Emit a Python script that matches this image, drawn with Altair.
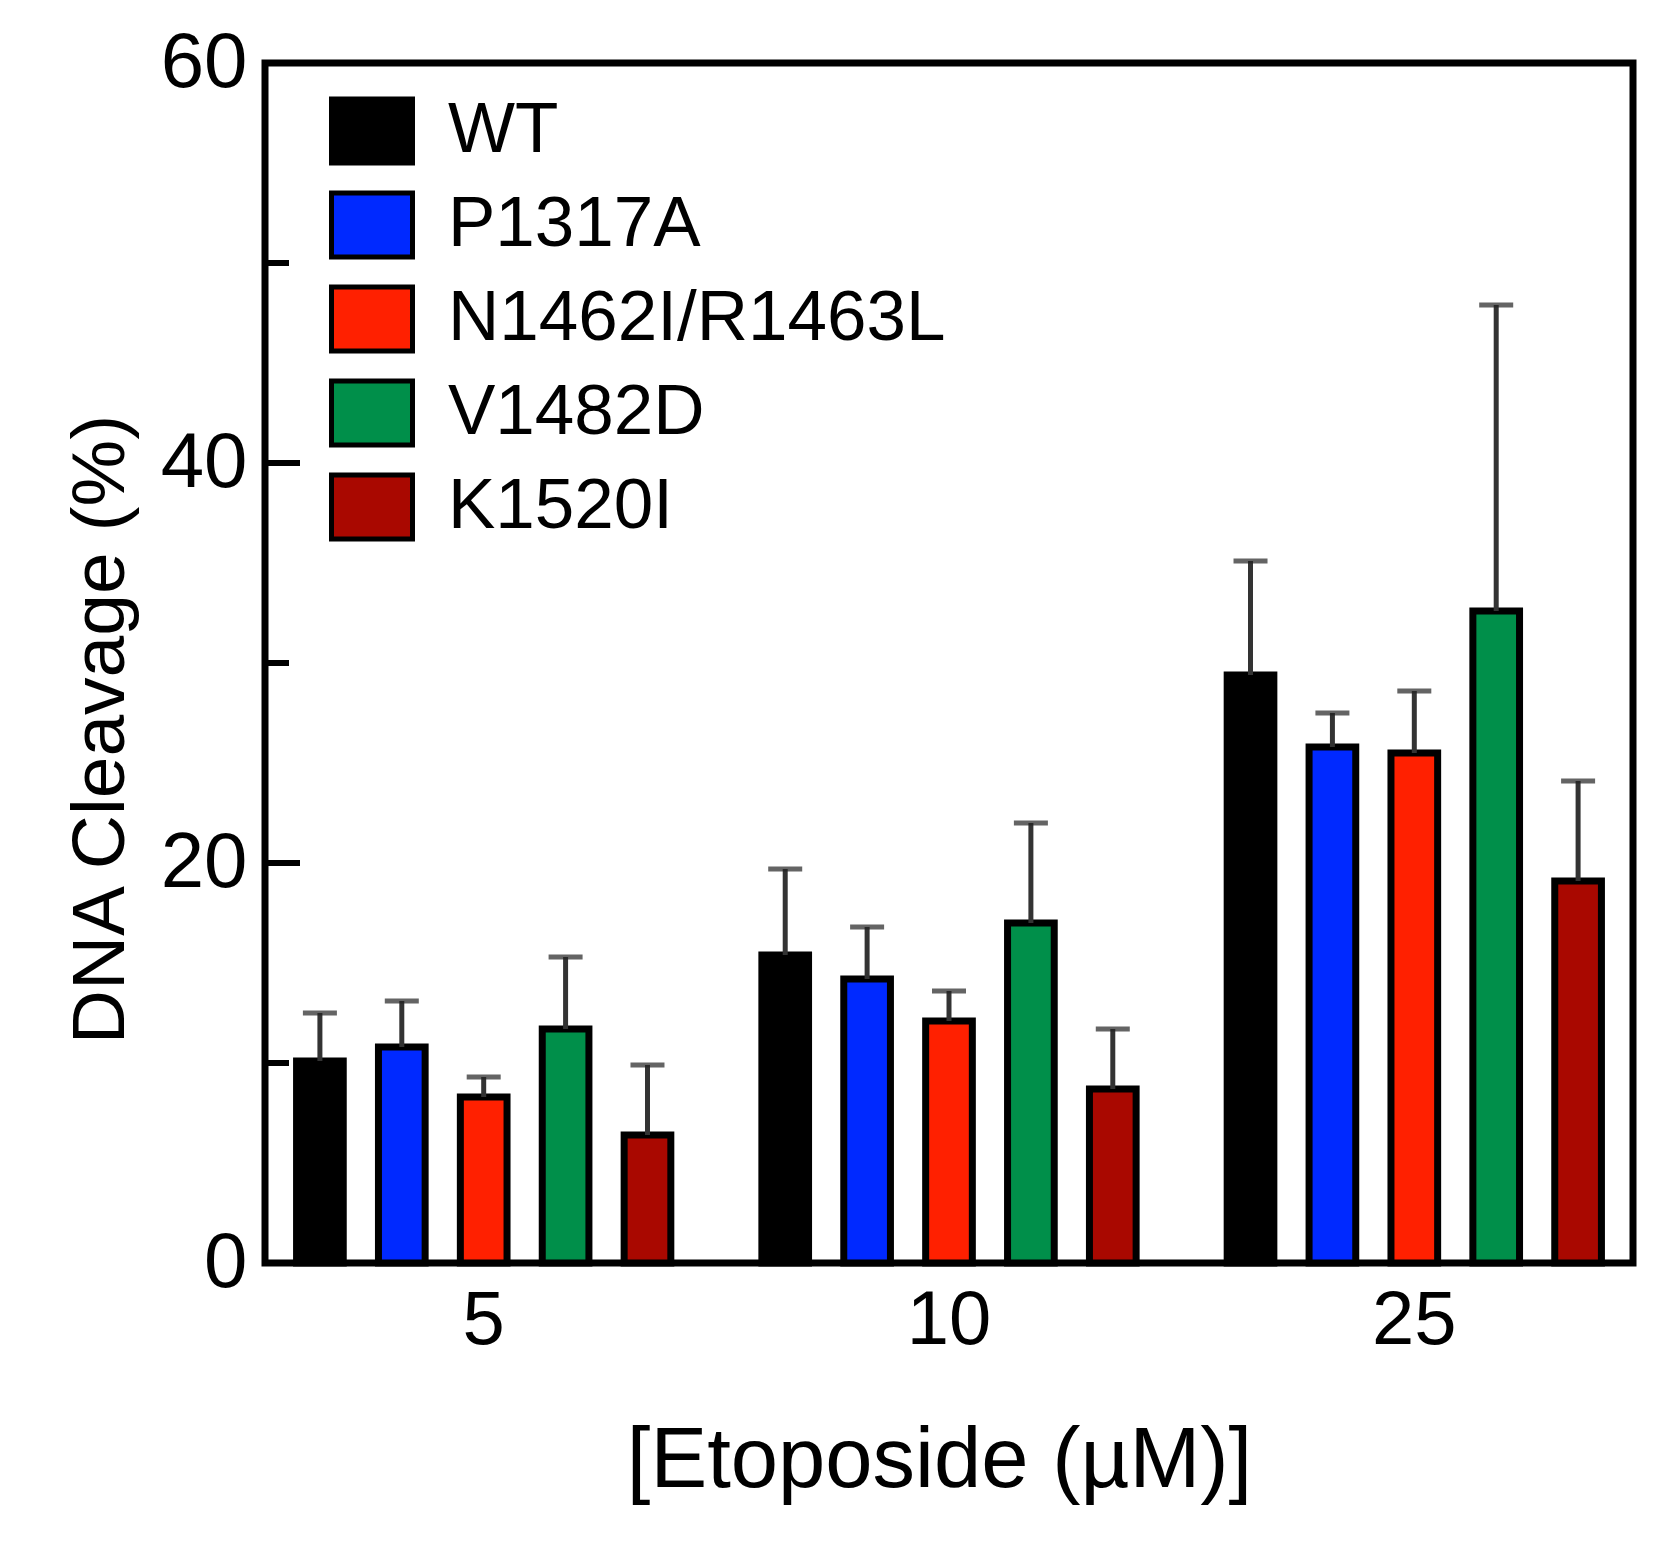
import altair as alt
import pandas as pd

conc = ["5", "10", "25"]
mutants = ["WT", "P1317A", "N1462I/R1463L", "V1482D", "K1520I"]
colors = ["#000000", "#0029FF", "#FF2000", "#008F4A", "#A90800"]

cleavage_5 = [10.1, 10.8, 8.3, 11.7, 6.4]
error_5 = [2.4, 2.3, 1.0, 3.6, 3.5]
cleavage_10 = [15.4, 14.2, 12.1, 17.0, 8.7]
error_10 = [4.3, 2.6, 1.5, 5.0, 3.0]
cleavage_25 = [29.4, 25.8, 25.5, 32.6, 19.1]
error_25 = [5.7, 1.7, 3.1, 15.3, 5.0]

major_ticks = [0, 20, 40, 60]
minor_ticks = [10, 30, 50]

rows = []
for c, vals, errs in [("5", cleavage_5, error_5), ("10", cleavage_10, error_10), ("25", cleavage_25, error_25)]:
    for m, v, e in zip(mutants, vals, errs):
        rows.append({"conc": c, "mutant": m, "value": v, "upper": v + e})
df = pd.DataFrame(rows)
major_df = pd.DataFrame({"value": major_ticks})
minor_df = pd.DataFrame({"value": minor_ticks})

FONT = "Liberation Sans"

x_axis = alt.Axis(
    labelAngle=0, ticks=False, tickSize=0, domain=False, grid=False,
    labelFontSize=76, labelFont=FONT, labelColor="black",
    labelBaseline="alphabetic", labelPadding=80,
    title="[Etoposide (\u00b5M)]", titleFont=FONT, titleFontSize=85,
    titleFontWeight="normal", titleColor="black",
    titleX=674, titleY=223, titleBaseline="alphabetic", titleAlign="center",
)
y_axis = alt.Axis(
    values=major_ticks, ticks=False, tickSize=0, domain=False, grid=False,
    labelFontSize=78, labelFont=FONT, labelColor="black", labelPadding=18,
    title="DNA Cleavage (%)", titleFont=FONT, titleFontSize=75,
    titleFontWeight="normal", titleColor="black",
    titleX=-142, titleY=666, titleBaseline="alphabetic", titleAngle=270,
    titleAlign="center",
)

x_enc = alt.X(
    "conc:N", sort=conc,
    scale=alt.Scale(paddingInner=0.12, paddingOuter=0.03),
    axis=x_axis,
)
xoff_enc = alt.XOffset(
    "mutant:N", sort=mutants,
    scale=alt.Scale(paddingInner=0.43, paddingOuter=0.215),
)
y_scale = alt.Scale(domain=[0, 60], nice=False)

bars = alt.Chart(df).mark_bar(stroke="black", strokeWidth=7).encode(
    x=x_enc,
    xOffset=xoff_enc,
    y=alt.Y("value:Q", scale=y_scale, axis=y_axis),
    color=alt.Color(
        "mutant:N", sort=mutants, title=None,
        scale=alt.Scale(domain=mutants, range=colors),
        legend=alt.Legend(
            orient="none", legendX=64, legendY=25, padding=0,
            symbolType="M-1,-0.79H1V0.79H-1Z", symbolSize=6561,
            symbolStrokeWidth=5, symbolStrokeColor="black", symbolOpacity=1,
            labelFontSize=71, labelFont=FONT, labelColor="black",
            labelOffset=33, rowPadding=9, labelLimit=1000,
        ),
    ),
)

err_lines = alt.Chart(df).mark_rule(color="#333333", strokeWidth=5).encode(
    x=x_enc,
    xOffset=xoff_enc,
    y=alt.Y("value:Q", scale=y_scale, axis=y_axis),
    y2="upper:Q",
)
err_caps = alt.Chart(df).mark_tick(color="#222222", thickness=5, size=34, orient="horizontal").encode(
    x=x_enc,
    xOffset=xoff_enc,
    y=alt.Y("upper:Q", scale=y_scale, axis=y_axis),
)

major = alt.Chart(major_df).mark_rule(color="black", strokeWidth=6).encode(
    y=alt.Y("value:Q", scale=y_scale, axis=y_axis),
    x=alt.value(0), x2=alt.value(35),
)
minor = alt.Chart(minor_df).mark_rule(color="black", strokeWidth=6).encode(
    y=alt.Y("value:Q", scale=y_scale, axis=y_axis),
    x=alt.value(0), x2=alt.value(24),
)

chart = alt.layer(bars, err_lines, err_caps, major, minor).properties(
    width=1368, height=1200,
    autosize=alt.AutoSizeParams(type="none"),
    padding={"left": 257, "top": 55, "right": 20, "bottom": 270},
    background="white",
).configure_view(stroke="black", strokeWidth=7)

chart.save("out.html", embed_options={"renderer": "svg", "actions": False})
